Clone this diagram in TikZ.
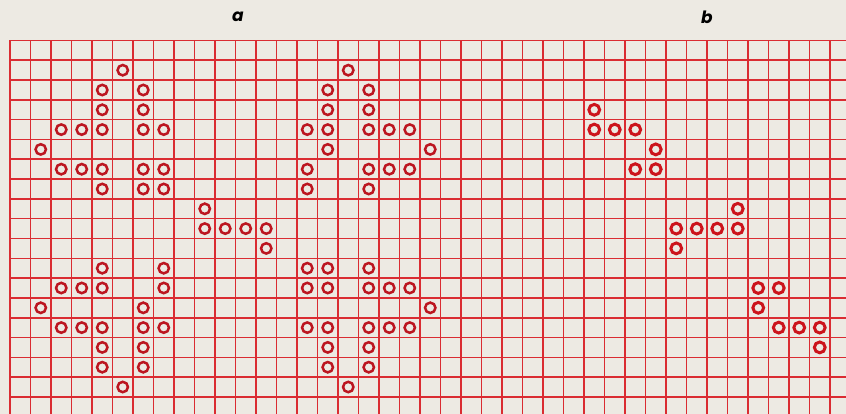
\documentclass[tikz,border=0pt]{standalone}
\usepackage{fontspec}
\newfontfamily\lblfont{Poppins}
\definecolor{paper}{RGB}{237,234,227}
\definecolor{gridred}{RGB}{218,44,50}
\definecolor{ringred}{RGB}{188,22,32}
\definecolor{ringredb}{RGB}{204,20,28}
\tikzset{
  gridline/.style={draw=gridred, line width=1.6pt},
  ringa/.style={circle, draw=ringred, line width=2.5pt, minimum size=10.4pt, inner sep=0pt},
  ringb/.style={circle, draw=ringredb, line width=3pt, minimum size=10.8pt, inner sep=0pt},
  lbl/.style={font=\lblfont\bfseries\itshape\fontsize{17pt}{17pt}\selectfont, text=black, inner sep=0pt}
}
\begin{document}
\begin{tikzpicture}
\fill[paper] (0,0) rectangle (846pt,-414pt);
\useasboundingbox (0,0) rectangle (846pt,-414pt);
\node[lbl] (la) at (238pt,-17pt) {a};
\node[lbl] (lb) at (707pt,-17pt) {b};
\begin{scope}[shift={(10pt,-40.5pt)}, x=20.5pt, y=-19.8pt]
  \foreach \c in {0,...,40} \draw[gridline] (\c,0) -- (\c,18.9);
  \foreach \r in {0,...,18} \draw[gridline] (0,\r) -- (40.9,\r);
  \foreach \c/\r in {5/1,4/2,6/2,4/3,6/3,2/4,3/4,4/4,6/4,7/4,1/5,2/6,3/6,4/6,6/6,7/6,4/7,6/7,7/7,
    9/8,9/9,10/9,11/9,12/9,12/10,
    4/11,7/11,2/12,3/12,4/12,7/12,1/13,6/13,2/14,3/14,4/14,6/14,7/14,4/15,6/15,4/16,6/16,5/17,
    16/1,15/2,17/2,15/3,17/3,14/4,15/4,17/4,18/4,19/4,15/5,20/5,14/6,17/6,18/6,19/6,14/7,17/7,
    14/11,15/11,17/11,14/12,15/12,17/12,18/12,19/12,20/13,14/14,15/14,17/14,18/14,19/14,15/15,17/15,15/16,17/16,16/17}
    \node[ringa] (a-\c-\r) at (\c+0.5,\r+0.5) {};
  \foreach \c/\r in {28/3,28/4,29/4,30/4,31/5,30/6,31/6,35/8,32/9,33/9,34/9,35/9,32/10,36/12,37/12,36/13,37/14,38/14,39/14,39/15}
    \node[ringb] (b-\c-\r) at (\c+0.5,\r+0.5) {};
\end{scope}
\end{tikzpicture}
\end{document}
